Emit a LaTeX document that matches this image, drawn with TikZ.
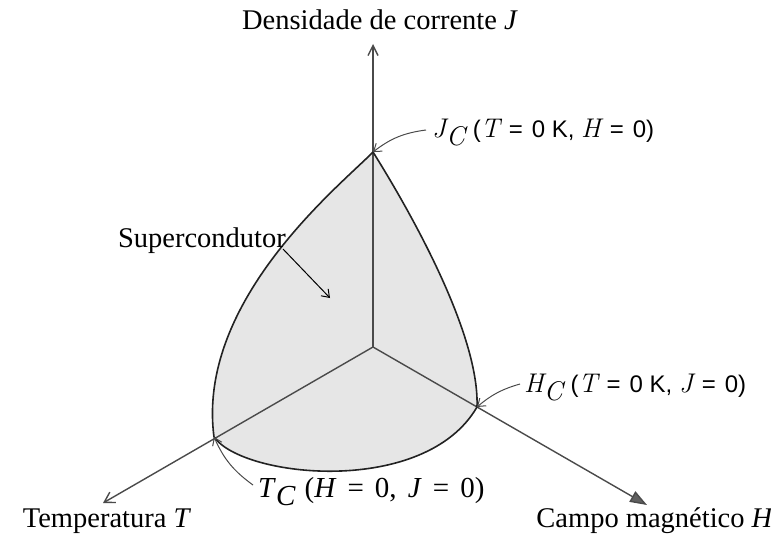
\documentclass[tikz,border=0pt]{standalone}
\usepackage{fontspec}
\setmainfont{Liberation Serif}
\newfontfamily\labsans{Liberation Sans}
\newfontfamily\lmr{Latin Modern Roman}
\usetikzlibrary{arrows.meta}
\definecolor{regionfill}{HTML}{E6E6E6}
\definecolor{axisgray}{HTML}{4A4A4A}
\definecolor{curvecol}{HTML}{222222}
\definecolor{tipgray}{HTML}{606060}
\newcommand{\mlet}[1]{{\fontsize{27}{28}\selectfont\lmr\itshape #1}}
\newcommand{\msubC}[1]{\mlet{#1}\raisebox{-8pt}{\mlet{C}}}
\newcommand{\eqsp}{\hspace{9pt}=\hspace{9pt}}
\newcommand{\eqsr}{\hspace{11pt}=\hspace{11pt}}
\begin{document}
\begin{tikzpicture}[x=1pt,y=-1pt,
  axis/.style={draw=axisgray, line width=1.4pt},
  boundary/.style={draw=curvecol, line width=1.6pt},
  pointer/.style={draw=axisgray, line width=1pt, -{Straight Barb[length=7pt,width=10pt]}},
  axlabel/.style={font=\fontsize{28.5}{32}\selectfont, inner sep=0pt},
  annot/.style={font=\fontsize{24}{26}\selectfont\labsans, inner sep=0pt, anchor=base west},
  annotserif/.style={font=\fontsize{29}{32}\selectfont, inner sep=0pt, anchor=base west},
]
\useasboundingbox (0,0) rectangle (771,535);

\coordinate (O) at (373,347);
\coordinate (Jtip) at (373,44);
\coordinate (Ttip) at (103,503);
\coordinate (Htip) at (647,505);
\coordinate (JC) at (373,152);
\coordinate (HC) at (477,407);
\coordinate (TC) at (214,437);

% superconducting region
\fill[regionfill] (JC) .. controls (342,184) and (196,300) .. (TC)
   .. controls (243,478) and (425,497) .. (HC)
   .. controls (480,328) and (398,192) .. (JC) -- cycle;

% axes
\draw[axis, -{Straight Barb[length=10pt,width=10pt]}] (O) -- (Jtip);
\draw[axis, -{Straight Barb[length=10pt,width=12pt]}] (O) -- (Ttip);
\draw[axis, -{Triangle[length=17pt,width=12pt,fill=tipgray]}] (O) -- (Htip);

% boundary curves
\draw[boundary] (JC) .. controls (342,184) and (196,300) .. (TC);
\draw[boundary] (TC) .. controls (243,478) and (425,497) .. (HC);
\draw[boundary] (HC) .. controls (480,328) and (398,192) .. (JC);

% axis labels
\node[axlabel] (jlab) at (380,20) {Densidade de corrente \textit{J}};
\node[axlabel] (tlab) at (107,521) {Temperatura \textit{T}};
\node[axlabel] (hlab) at (655,521) {Campo magnético \textit{H}};
\node[axlabel] (sup) at (202,241) {Supercondutor};

% annotations
\node[annot] (jcl) at (432,137) {\msubC{J}\hspace{8pt}(\mlet{T}\eqsp0 K, \mlet{H}\eqsp0)};
\node[annot] (hcl) at (524,392) {\msubC{H}\hspace{8pt}(\mlet{T}\eqsp0 K, \mlet{J}\eqsp0)};
\node[annotserif] (tcl) at (258,497) {\textit{T}\raisebox{-8pt}{\textit{C}}\hspace{9pt}(\textit{H}\eqsr0,\hspace{4pt} \textit{J}\eqsr0)};

\coordinate (jcs) at (426,130);
\coordinate (hcs) at (520,384);
\coordinate (tcs) at (253,485);
\coordinate (sps) at (283,249);
\coordinate (spe) at (330,298);

\draw[pointer] (jcs) to[bend right=15] (JC);
\draw[pointer] (hcs) to[bend right=12] (HC);
\draw[pointer] (tcs) to[bend left=15] (TC);
\draw[pointer, draw=black] (sps) -- (spe);
\end{tikzpicture}
\end{document}
